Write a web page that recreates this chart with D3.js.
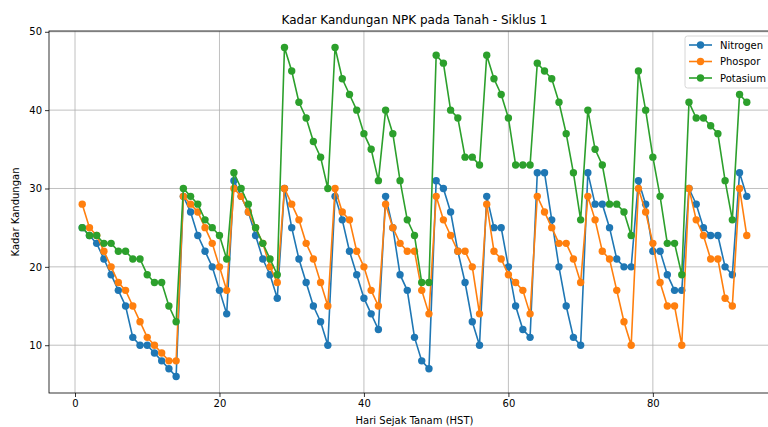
<!DOCTYPE html>
<html><head><meta charset="utf-8">
<script src="https://cdn.jsdelivr.net/npm/d3@7"></script>
<style>
html,body{margin:0;padding:0;background:#fff;overflow:hidden;}
svg{display:block;font-family:"DejaVu Sans",sans-serif;}
</style></head>
<body>
<svg id="chart" width="768" height="427"></svg>
<script>
const days = d3.range(1, 94);
const nitrogen = [25,24,23,21,19,17,15,11,10,10,9,8,7,6,
  29,27,24,22,20,17,14,
  31,29,27,24,21,19,16,
  30,25,21,18,15,13,10,
  29,26,22,19,16,14,12,
  29,25,19,17,11,8,7,
  31,30,27,22,18,13,10,
  29,25,25,20,15,12,11,
  32,32,26,20,15,11,10,
  32,28,28,25,21,20,20,
  31,28,22,22,19,17,17,
  30,28,25,24,24,20,19,
  32,29];
const phospor = [28,25,24,22,20,18,17,15,13,11,10,9,8,8,
  29,28,27,25,23,20,17,
  30,29,27,25,23,20,18,
  30,28,26,23,21,18,15,
  30,27,26,22,20,17,15,
  28,25,23,22,22,17,14,
  29,26,24,22,22,20,14,
  28,22,21,19,18,17,14,
  29,27,25,23,23,21,18,
  29,26,22,21,17,13,10,
  30,27,23,18,15,15,10,
  30,26,24,21,21,16,15,
  30,24];
const potasium = [25,24,24,23,23,22,22,21,21,19,18,18,15,13,
  30,29,28,26,25,24,21,
  32,30,28,25,23,21,19,
  48,45,41,39,36,34,30,
  48,44,42,40,37,35,31,
  40,37,31,26,24,18,18,
  47,46,40,39,34,34,33,
  47,44,42,39,33,33,33,
  46,45,44,41,37,32,26,
  40,35,33,28,28,27,24,
  45,40,34,29,23,23,19,
  41,39,39,38,37,31,26,
  42,41];
const seriesNames = ["Nitrogen","Phospor","Potasium"];
const seriesColors = ["#1f77b4","#ff7f0e","#2ca02c"];
const xTicks = [0,20,40,60,80];
const yTicks = [10,20,30,40,50];
const titleText = "Kadar Kandungan NPK pada Tanah - Siklus 1";
const xLabel = "Hari Sejak Tanam (HST)";
const yLabel = "Kadar Kandungan";

const seriesData = [nitrogen, phospor, potasium];
const svg = d3.select("#chart");
const L = 49, R = 780, T = 31, B = 393;
const x = d3.scaleLinear().domain([-3.6, 97.6]).range([L, R]);
const y = d3.scaleLinear().domain([3.9, 50.1]).range([B, T]);

svg.append("defs").append("clipPath").attr("id","clip")
  .append("rect").attr("x",L).attr("y",T).attr("width",R-L).attr("height",B-T);

// grid
const grid = svg.append("g");
xTicks.forEach(t => grid.append("line").attr("x1",x(t)).attr("x2",x(t)).attr("y1",T).attr("y2",B)
  .attr("stroke","#b0b0b0").attr("stroke-width",0.8));
yTicks.forEach(t => grid.append("line").attr("x1",L).attr("x2",R).attr("y1",y(t)).attr("y2",y(t))
  .attr("stroke","#b0b0b0").attr("stroke-width",0.8));

// series
const plot = svg.append("g").attr("clip-path","url(#clip)");
const line = d3.line().x((d,i)=>x(days[i])).y(d=>y(d));
seriesData.forEach((vals, si) => {
  const g = plot.append("g");
  g.append("path").datum(vals).attr("d", line).attr("fill","none")
    .attr("stroke", seriesColors[si]).attr("stroke-width",1.6);
  g.selectAll("circle").data(vals).join("circle")
    .attr("cx",(d,i)=>x(days[i])).attr("cy",d=>y(d)).attr("r",3.7)
    .attr("fill",seriesColors[si]);
});

// axes
const xAxis = d3.axisBottom(x).tickValues(xTicks).tickSize(4).tickPadding(3);
const yAxis = d3.axisLeft(y).tickValues(yTicks).tickSize(4).tickPadding(3);
const gx = svg.append("g").attr("transform",`translate(0,${B})`).call(xAxis);
const gy = svg.append("g").attr("transform",`translate(${L},0)`).call(yAxis);
[gx,gy].forEach(g=>{
  g.select(".domain").remove();
  g.selectAll("text").attr("font-family","DejaVu Sans").attr("font-size",10).attr("fill","#000");
  g.selectAll("line").attr("stroke","#000").attr("stroke-width",0.8);
});
// spines
svg.append("rect").attr("x",L).attr("y",T).attr("width",R-L).attr("height",B-T)
  .attr("fill","none").attr("stroke","#000").attr("stroke-width",0.8);

// title & labels
svg.append("text").attr("x",(L+R)/2).attr("y",24).attr("text-anchor","middle")
  .attr("font-size",12).text(titleText);
svg.append("text").attr("x",(L+R)/2).attr("y",424).attr("text-anchor","middle")
  .attr("font-size",10).text(xLabel);
svg.append("text").attr("transform",`translate(19,${(T+B)/2}) rotate(-90)`).attr("text-anchor","middle")
  .attr("font-size",10).text(yLabel);

// legend
const lg = svg.append("g").attr("transform","translate(685,36)");
lg.append("rect").attr("width",100).attr("height",52).attr("rx",2.5)
  .attr("fill","#fff").attr("fill-opacity",0.8).attr("stroke","#cccccc").attr("stroke-width",0.8);
seriesNames.forEach((n,i)=>{
  const yy = 9 + i*16.5;
  lg.append("line").attr("x1",4).attr("x2",27).attr("y1",yy).attr("y2",yy)
    .attr("stroke",seriesColors[i]).attr("stroke-width",1.6);
  lg.append("circle").attr("cx",15.5).attr("cy",yy).attr("r",3.7).attr("fill",seriesColors[i]);
  lg.append("text").attr("x",35).attr("y",yy+3.6).attr("font-size",10).text(n);
});
</script>
</body></html>
